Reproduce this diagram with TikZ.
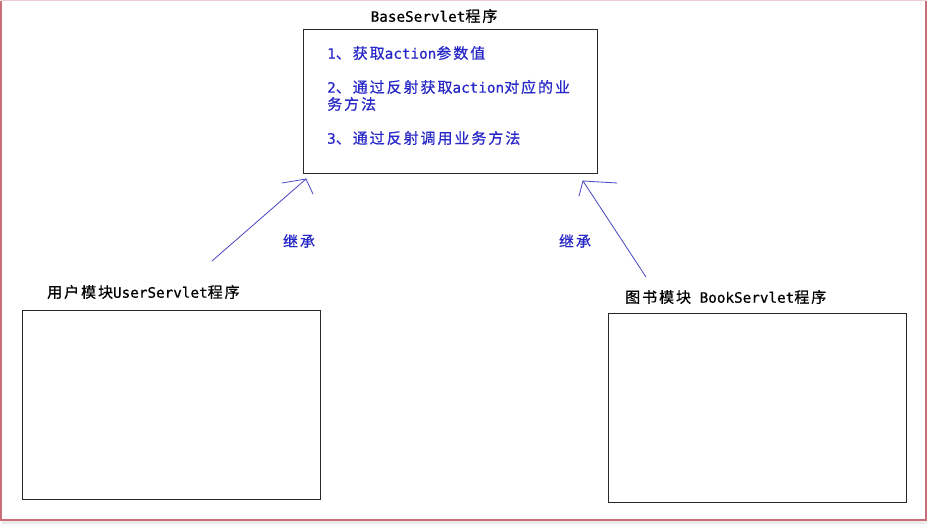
\documentclass[tikz,border=0pt]{standalone}
\usepackage{fontspec}
\newfontfamily\cjk[LetterSpace=13,FakeBold=0.6]{Noto Sans CJK SC}
\newfontfamily\lat[Scale=0.953,FakeBold=0.6]{DejaVu Sans Mono}
\definecolor{txtblue}{RGB}{40,40,200}
\definecolor{arrblue}{RGB}{70,70,195}
\definecolor{framecol}{RGB}{200,110,120}
\definecolor{boxcol}{RGB}{40,40,40}
\begin{document}
\begin{tikzpicture}[x=1pt,y=-1pt,
  box/.style={draw=boxcol, line width=1.1pt, inner sep=0pt, anchor=north west,
    minimum width=#1},
  title/.style={inner sep=0pt, text=black, font=\cjk\fontsize{15pt}{17pt}\selectfont},
  item/.style={inner sep=0pt, anchor=west, text=txtblue, font=\cjk\fontsize{15pt}{17pt}\selectfont},
  arr/.style={draw=arrblue, line width=0.8pt, line cap=round, line join=round}]
\useasboundingbox (0,0) rectangle (929,524);
\fill[white] (0,0) rectangle (929,524);
% window frame
\draw[framecol!35, line width=1pt] (1,1) -- (926,1);
\draw[framecol, line width=1.6pt] (1,1) -- (1,520) -- (926,520) -- (926,1);
\fill[black!8] (2,521) rectangle (927,524);
% boxes
\node[box=294pt, minimum height=144pt] (base) at (303,29) {};
\node[box=298pt, minimum height=189pt] (user) at (22,310) {};
\node[box=298pt, minimum height=189pt] (book) at (608,313) {};
% titles
\node[title, anchor=center] (basetitle) at (434,16) {{\lat BaseServlet}程序};
\node[title, anchor=west] (usertitle) at (47,292) {用户模块{\lat UserServlet}程序};
\node[title, anchor=west] (booktitle) at (625,297) {图书模块{\lat\ BookServlet}程序};
% steps
\node[item] (s1) at (327,53) {{\lat 1}、获取{\lat action}参数值};
\node[item] (s2a) at (327,87) {{\lat 2}、通过反射获取{\lat action}对应的业};
\node[item] (s2b) at (327,104) {务方法};
\node[item] (s3) at (327,138) {{\lat 3}、通过反射调用业务方法};
% inheritance arrows
\coordinate (uA) at (212,261);
\coordinate (uT) at (306,179);
\coordinate (uL) at (282,183);
\coordinate (uD) at (313,194);
\coordinate (bA) at (646,277);
\coordinate (bT) at (583,181);
\coordinate (bL) at (617,183);
\coordinate (bD) at (579,196);
\draw[arr] (uA) -- (uT);
\draw[arr] (uL) -- (300,180) -- (uT) -- (uD);
\draw[arr] (bA) -- (bT);
\draw[arr] (bL) -- (600,182) -- (bT) -- (bD);
\node[item, anchor=center] (inh1) at (299,241) {继承};
\node[item, anchor=center] (inh2) at (575,241) {继承};
\end{tikzpicture}
\end{document}
